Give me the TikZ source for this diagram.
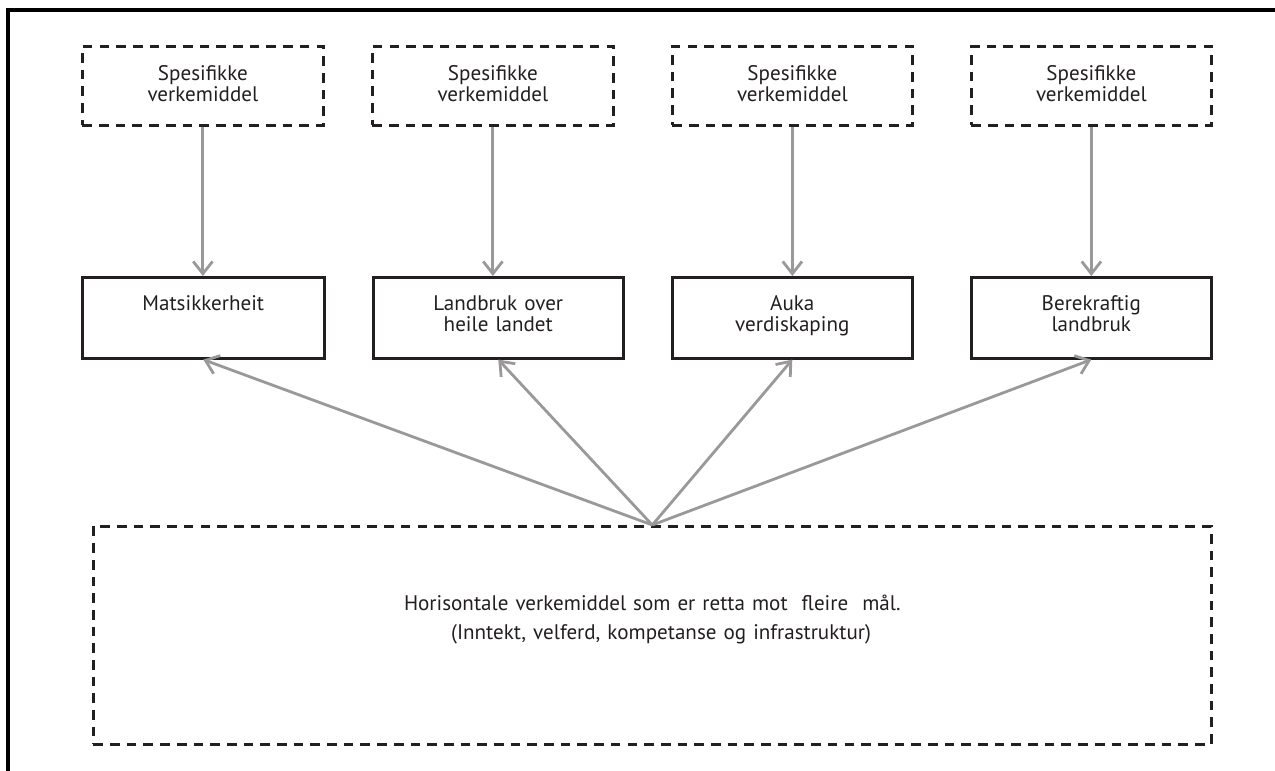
\documentclass[tikz,border=0pt]{standalone}
\usepackage{fontspec}
\setmainfont{PT Sans}
\usetikzlibrary{arrows.meta}
\definecolor{encre}{HTML}{231F20}
\definecolor{gris}{HTML}{999999}

\begin{document}
\begin{tikzpicture}[x=0.02cm,y=-0.02cm,
  boite/.style={draw=encre,line width=1.5pt,anchor=north west,inner sep=0pt,align=center,text=encre,font=\fontsize{12}{12}\selectfont},
  tirets/.style={boite,line width=1.6pt,dash pattern=on 5.5pt off 4pt},
  haut/.style={tirets,text height=0.68cm,text depth=0.9cm},
  milieu/.style={boite,text height=0.66cm,text depth=0.96cm},
  fleche/.style={draw=gris,line width=1.6pt,-{Straight Barb[length=7pt,width=11pt]}}]
\useasboundingbox (0,0) rectangle (1275,771);
  % Cadre
\draw[line width=1.8pt] (8,771) -- (8,10) -- (1275,10);
  % Verkemiddel
\node[haut,text width=4.82cm] (t1) at (81,45) {Spesifikke\\verkemiddel};
\node[haut,text width=4.82cm] (t2) at (371,45) {Spesifikke\\verkemiddel};
\node[haut,text width=4.8cm] (t3) at (671,45) {Spesifikke\\verkemiddel};
\node[haut,text width=4.8cm] (t4) at (970,45) {Spesifikke\\verkemiddel};
  % Mal
\node[milieu,text width=4.84cm] (m1) at (81,276) {Matsikkerheit};
\node[milieu,text width=5cm] (m2) at (372,276) {Landbruk over\\heile landet};
\node[milieu,text width=4.8cm] (m3) at (671,276) {Auka\\verdiskaping};
\node[milieu,text width=4.8cm] (m4) at (970,276) {Berekraftig\\landbruk};
  % Horisontale
\node[tirets,text width=22.36cm,text height=1.68cm,text depth=2.68cm] (b) at (92,525)
  {Horisontale verkemiddel som er retta mot\ \ fleire\ \ mål.\\[4.5pt]
   \hspace*{10pt}(Inntekt, velferd, kompetanse og infrastruktur)};
  % Piler
\foreach \i in {1,...,4}
  \draw[fleche] (t\i.south) -- (t\i.south |- m\i.north);
\foreach \i in {1,...,4}
  \draw[fleche] (b.north) -- (m\i.south);
\end{tikzpicture}
\end{document}
